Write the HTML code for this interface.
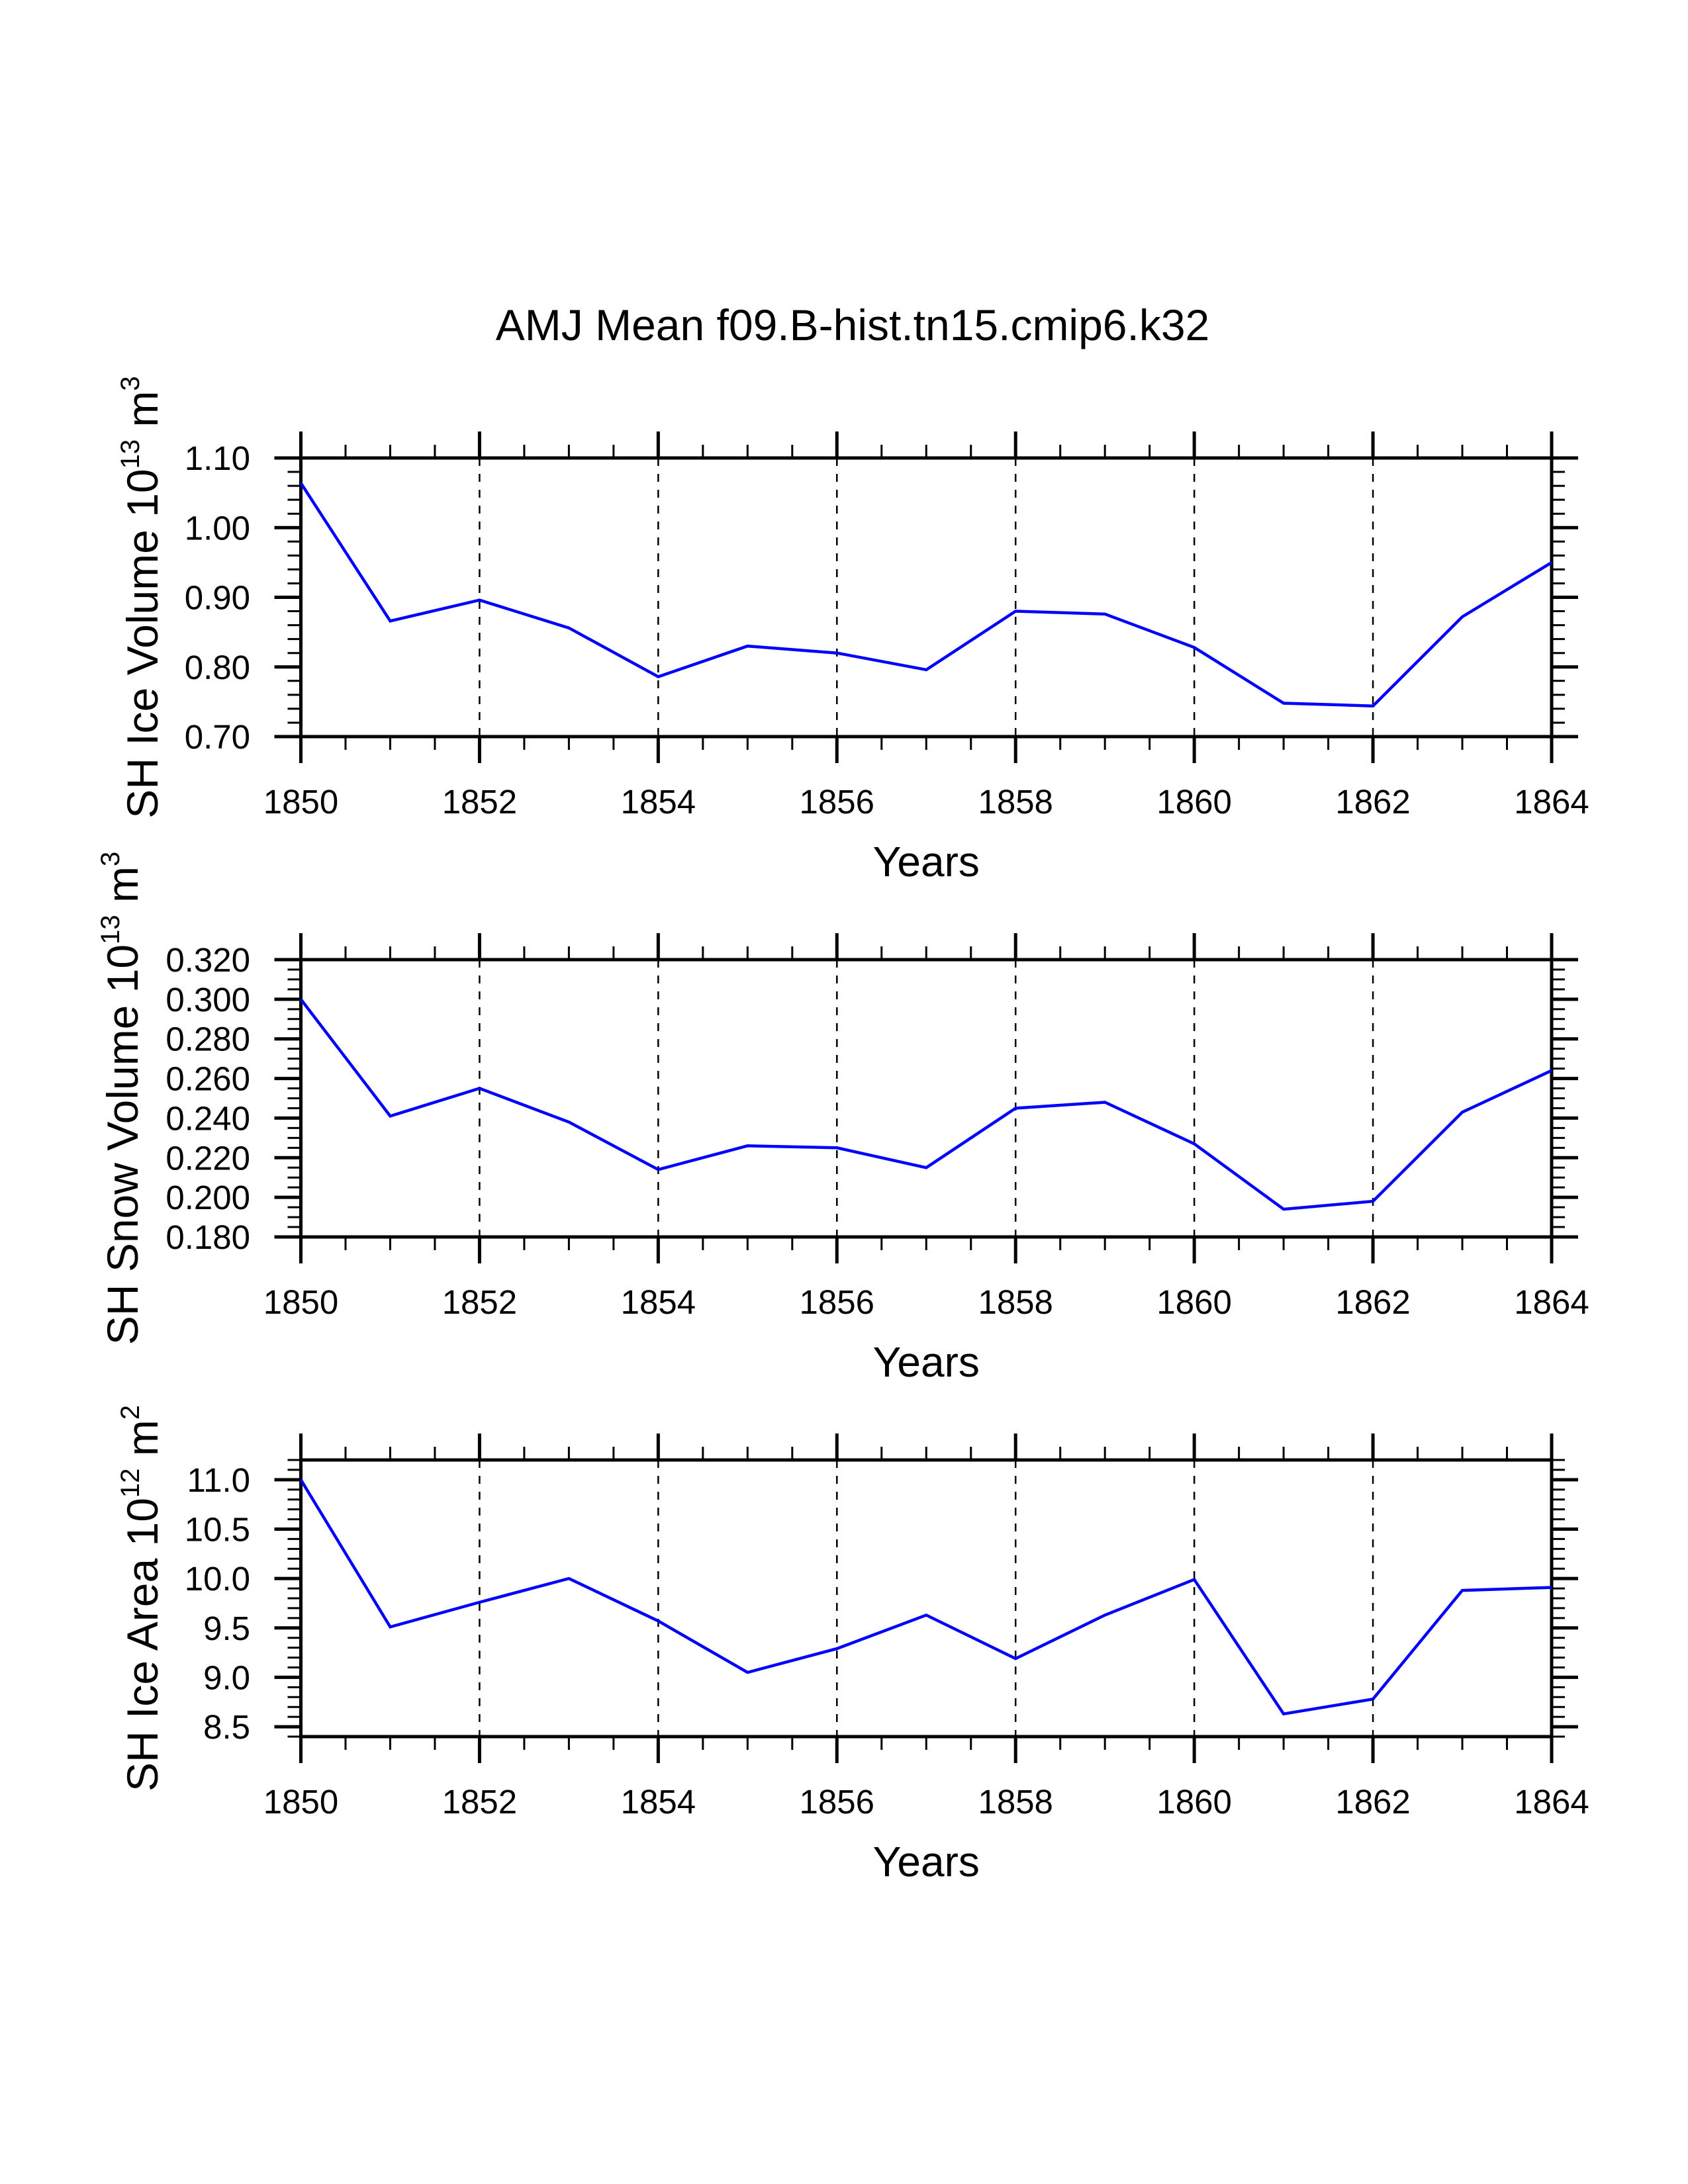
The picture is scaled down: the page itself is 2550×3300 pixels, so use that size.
<!DOCTYPE html>
<html><head><meta charset="utf-8"><style>
html,body{margin:0;padding:0;background:#fff;}
svg{display:block;font-family:"Liberation Sans",Arial,sans-serif;}
</style></head><body>
<svg id="chart" width="2550" height="3300" viewBox="0 0 2550 3300" xmlns="http://www.w3.org/2000/svg">
<rect width="2550" height="3300" fill="#fff"/>
<text x="1288" y="514" font-size="66" text-anchor="middle">AMJ Mean f09.B-hist.tn15.cmip6.k32</text>
</svg>
<script>
const years = [1850,1851,1852,1853,1854,1855,1856,1857,1858,1859,1860,1861,1862,1863,1864];
const iceVolume = [1.064,0.866,0.896,0.856,0.786,0.830,0.820,0.796,0.880,0.876,0.828,0.748,0.744,0.872,0.950];
const snowVolume = [0.300,0.241,0.255,0.238,0.214,0.226,0.225,0.215,0.245,0.248,0.227,0.194,0.198,0.243,0.264];
const iceArea = [11.0,9.51,9.76,10.00,9.57,9.05,9.29,9.63,9.19,9.63,9.99,8.63,8.78,9.88,9.91];
const xTickLabels = [1850,1852,1854,1856,1858,1860,1862,1864];
const iceVolTicks = ["0.70","0.80","0.90","1.00","1.10"];
const snowVolTicks = ["0.180","0.200","0.220","0.240","0.260","0.280","0.300","0.320"];
const iceAreaTicks = ["8.5","9.0","9.5","10.0","10.5","11.0"];

const svg = document.getElementById('chart');
const NS = 'http://www.w3.org/2000/svg';
function mk(tag, attrs, parent){const e=document.createElementNS(NS,tag);for(const k in attrs)e.setAttribute(k,attrs[k]);(parent||svg).appendChild(e);return e;}

const X0=454.5, X1=2344;
const xMin=1850, xMax=1864;
function xs(v){return X0+(v-xMin)/(xMax-xMin)*(X1-X0);}

const panels=[
 {name:'ice-volume',top:692,bot:1113,min:0.70,max:1.10,ticks:iceVolTicks,minor:0.02,data:iceVolume,title:'SH Ice Volume 10',sup:'13',unit:' m',usup:'3',tx:215},
 {name:'snow-volume',top:1450,bot:1869,min:0.180,max:0.320,ticks:snowVolTicks,minor:0.005,data:snowVolume,title:'SH Snow Volume 10',sup:'13',unit:' m',usup:'3',tx:185},
 {name:'ice-area',top:2206,bot:2624,min:8.4,max:11.2,ticks:iceAreaTicks,minor:0.1,data:iceArea,title:'SH Ice Area 10',sup:'12',unit:' m',usup:'2',tx:215}
];

panels.forEach(p=>{
  const g=mk('g',{});
  
  
  const ys=v=>p.bot-(v-p.min)/(p.max-p.min)*(p.bot-p.top);
  xTickLabels.forEach(yr=>{
    if(yr===xMin||yr===xMax)return;
    const l=mk('line',{x1:xs(yr),x2:xs(yr),y1:p.top,y2:p.bot,stroke:'#000','stroke-width':2.5,'stroke-dasharray':'12,12'},g);
    
    
  });
  for(let v=xMin; v<=xMax+1e-9; v+=0.5){
    const major=Math.abs(v%2)<1e-9;
    const len=major?40:20, w=major?5:3;
    mk('line',{x1:xs(v),x2:xs(v),y1:p.bot,y2:p.bot+len,stroke:'#000','stroke-width':w},g);
    mk('line',{x1:xs(v),x2:xs(v),y1:p.top,y2:p.top-len,stroke:'#000','stroke-width':w},g);
  }
  const n=Math.round((p.max-p.min)/p.minor);
  for(let i=0;i<=n;i++){
    const v=p.min+i*p.minor;
    const isMajor=p.ticks.some(t=>Math.abs(parseFloat(t)-v)<1e-6);
    const len=isMajor?40:20, w=isMajor?5:3;
    const y=ys(v);
    mk('line',{x1:X0-len,x2:X0,y1:y,y2:y,stroke:'#000','stroke-width':w},g);
    mk('line',{x1:X1,x2:X1+len,y1:y,y2:y,stroke:'#000','stroke-width':w},g);
  }
  p.ticks.forEach(t=>{
    const e=mk('text',{x:378,y:ys(parseFloat(t))+18,'font-size':51,'text-anchor':'end'},g);
    e.textContent=t;
    
    
  });
  xTickLabels.forEach(t=>{
    const e=mk('text',{x:xs(t),y:p.bot+116,'font-size':51,'text-anchor':'middle'},g);
    e.textContent=t;
    
    
  });
  const fr=mk('rect',{x:X0,y:p.top,width:X1-X0,height:p.bot-p.top,fill:'none',stroke:'#000','stroke-width':5},g);
  
  
  const pts=p.data.map((v,i)=>xs(years[i]).toFixed(1)+','+ys(v).toFixed(1)).join(' ');
  const pl=mk('polyline',{points:pts,fill:'none',stroke:'#0000ff','stroke-width':4.5,'stroke-linejoin':'miter'},g);
  
  
  const xt=mk('text',{x:(X0+X1)/2,y:p.bot+211,'font-size':64,'text-anchor':'middle'},g);
  xt.textContent='Years';
  
  
  const cy=(p.top+p.bot)/2;
  const yt=mk('text',{x:0,y:0,'font-size':66,'text-anchor':'middle',transform:`translate(${p.tx+23},${cy}) rotate(-90)`},g);
  
  
  const s1=mk('tspan',{},yt); s1.textContent=p.title;
  const s2=mk('tspan',{dy:-28,'font-size':40},yt); s2.textContent=p.sup;
  const s3=mk('tspan',{dy:28},yt); s3.textContent=p.unit;
  const s4=mk('tspan',{dy:-28,'font-size':40},yt); s4.textContent=p.usup;
});
</script>
</body></html>
